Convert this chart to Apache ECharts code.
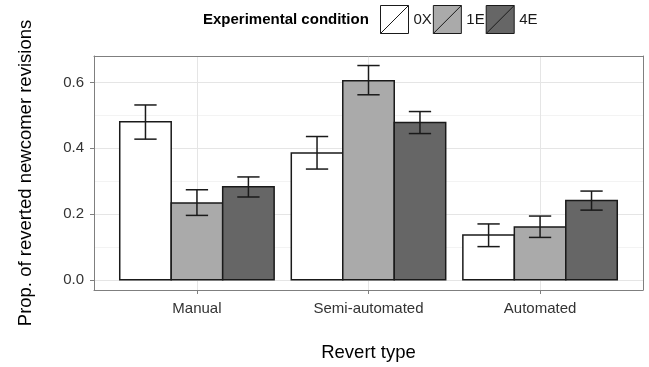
<!DOCTYPE html>
<html>
<head>
<meta charset="utf-8">
<script src="https://cdn.jsdelivr.net/npm/echarts@6/dist/echarts.min.js"></script>
<style>
  html, body { margin: 0; padding: 0; background: #fff; }
  #chart { width: 649px; height: 367px; }
</style>
</head>
<body>
<div id="chart"></div>
<script>
// Revert types on the x axis, experimental conditions as dodged bars
const categories = ['Manual', 'Semi-automated', 'Automated'];
const conditions = ['0X', '1E', '4E'];

// Proportion of reverted newcomer revisions per condition
const prop0X = [0.481, 0.386, 0.136];
const prop1E = [0.234, 0.606, 0.161];
const prop4E = [0.283, 0.479, 0.241];

// Error bar bounds
const lower0X = [0.428, 0.337, 0.101];
const upper0X = [0.532, 0.436, 0.170];
const lower1E = [0.196, 0.563, 0.129];
const upper1E = [0.274, 0.652, 0.194];
const lower4E = [0.252, 0.445, 0.212];
const upper4E = [0.313, 0.512, 0.270];

// Y tick labels
const yTicks = [0.0, 0.2, 0.4, 0.6];

const FONT = '"Liberation Sans", Arial, Helvetica, sans-serif';
const fills = ['#ffffff', '#aaaaaa', '#666666'];
const edge = '#1a1a1a';
const frame = '#7f7f7f';

const props = [prop0X, prop1E, prop4E];
const lowers = [lower0X, lower1E, lower4E];
const uppers = [upper0X, upper1E, upper4E];

const dodge = 0.9;                 // total width of a category's bars
const barW = dodge / conditions.length;
const capW = 0.13;                 // error bar whisker width

function makeRender(k) {
  return function (params, api) {
    const c = api.value(0);
    const left = c - dodge / 2 + k * barW;
    const mid = left + barW / 2;
    const base = api.coord([left, 0]);
    const top = api.coord([left + barW, api.value(1)]);
    const lo = api.coord([mid, api.value(2)]);
    const hi = api.coord([mid, api.value(3)]);
    const cl = api.coord([mid - capW / 2, 0])[0];
    const cr = api.coord([mid + capW / 2, 0])[0];
    const lineStyle = { stroke: edge, lineWidth: 1.5 };
    return {
      type: 'group',
      children: [
        {
          type: 'rect',
          shape: { x: base[0], y: top[1], width: top[0] - base[0], height: base[1] - top[1] },
          style: { fill: fills[k], stroke: edge, lineWidth: 1.5 }
        },
        { type: 'line', shape: { x1: hi[0], y1: hi[1], x2: lo[0], y2: lo[1] }, style: lineStyle },
        { type: 'line', shape: { x1: cl, y1: hi[1], x2: cr, y2: hi[1] }, style: lineStyle },
        { type: 'line', shape: { x1: cl, y1: lo[1], x2: cr, y2: lo[1] }, style: lineStyle }
      ]
    };
  };
}

const series = conditions.map(function (name, k) {
  return {
    name: name,
    type: 'custom',
    renderItem: makeRender(k),
    itemStyle: { color: fills[k], borderColor: edge, borderWidth: 1 },
    encode: { x: 0, y: 1 },
    data: categories.map(function (cat, i) {
      return [i + 1, props[k][i], lowers[k][i], uppers[k][i]];
    }),
    z: 3
  };
});

const X_MIN = 0.4, X_MAX = 3.6;
const Y_MIN = -0.031, Y_MAX = 0.681;

const frameAxis = { show: true, lineStyle: { color: frame, width: 1 }, onZero: false };

const option = {
  animation: false,
  backgroundColor: '#ffffff',
  textStyle: { fontFamily: FONT },
  grid: { left: 94, right: 6, top: 56, bottom: 75, containLabel: false },
  legend: {
    data: conditions,
    left: 380,
    top: 5,
    padding: 0,
    orient: 'horizontal',
    itemWidth: 28,
    itemHeight: 28,
    itemGap: 1,
    icon: 'path://M0,0L28,0L28,28L0,28ZM0,28L28,0',
    itemStyle: { borderColor: edge, borderWidth: 1 },
    textStyle: { fontFamily: FONT, fontSize: 15, color: '#1a1a1a' },
    selectedMode: false
  },
  graphic: [
    {
      type: 'text',
      left: 203,
      top: 12,
      style: { text: 'Experimental condition', font: 'bold 15px ' + FONT, fill: '#000' }
    }
  ],
  xAxis: [
    {
      type: 'value',
      min: X_MIN,
      max: X_MAX,
      splitNumber: 3,
      name: 'Revert type',
      nameLocation: 'middle',
      nameGap: 53,
      nameTextStyle: { fontFamily: FONT, fontSize: 18.5, color: '#000' },
      axisLine: frameAxis,
      axisTick: { show: true, inside: false, length: 4, lineStyle: { color: frame }, customValues: [1, 2, 3] },
      axisLabel: {
        customValues: [1, 2, 3],
        margin: 11,
        fontFamily: FONT,
        fontSize: 15,
        color: '#333',
        formatter: function (v) { return categories[Math.round(v) - 1] || ''; }
      },
      splitLine: { show: true, lineStyle: { color: '#e5e5e5', width: 1 } }
    },
    {
      type: 'value',
      position: 'top',
      min: X_MIN,
      max: X_MAX,
      axisLine: frameAxis,
      axisTick: { show: false },
      axisLabel: { show: false },
      splitLine: { show: false }
    }
  ],
  yAxis: [
    {
      type: 'value',
      min: Y_MIN,
      max: Y_MAX,
      splitNumber: 4,
      name: 'Prop. of reverted newcomer revisions',
      nameLocation: 'middle',
      nameGap: 59,
      nameTextStyle: { fontFamily: FONT, fontSize: 18.5, color: '#000' },
      axisLine: frameAxis,
      axisTick: { show: true, inside: false, length: 4, lineStyle: { color: frame }, customValues: yTicks },
      axisLabel: {
        customValues: yTicks,
        margin: 10,
        fontFamily: FONT,
        fontSize: 15,
        color: '#333',
        formatter: function (v) { return v.toFixed(1); }
      },
      splitLine: { show: true, lineStyle: { color: '#e5e5e5', width: 1 } },
      minorTick: { show: false, splitNumber: 2 },
      minorSplitLine: { show: true, lineStyle: { color: '#f3f3f3', width: 1 } }
    },
    {
      type: 'value',
      position: 'right',
      min: Y_MIN,
      max: Y_MAX,
      axisLine: frameAxis,
      axisTick: { show: false },
      axisLabel: { show: false },
      splitLine: { show: false }
    }
  ],
  series: series
};

const chart = echarts.init(document.getElementById('chart'), null, { renderer: 'canvas' });
chart.setOption(option);
</script>
</body>
</html>
